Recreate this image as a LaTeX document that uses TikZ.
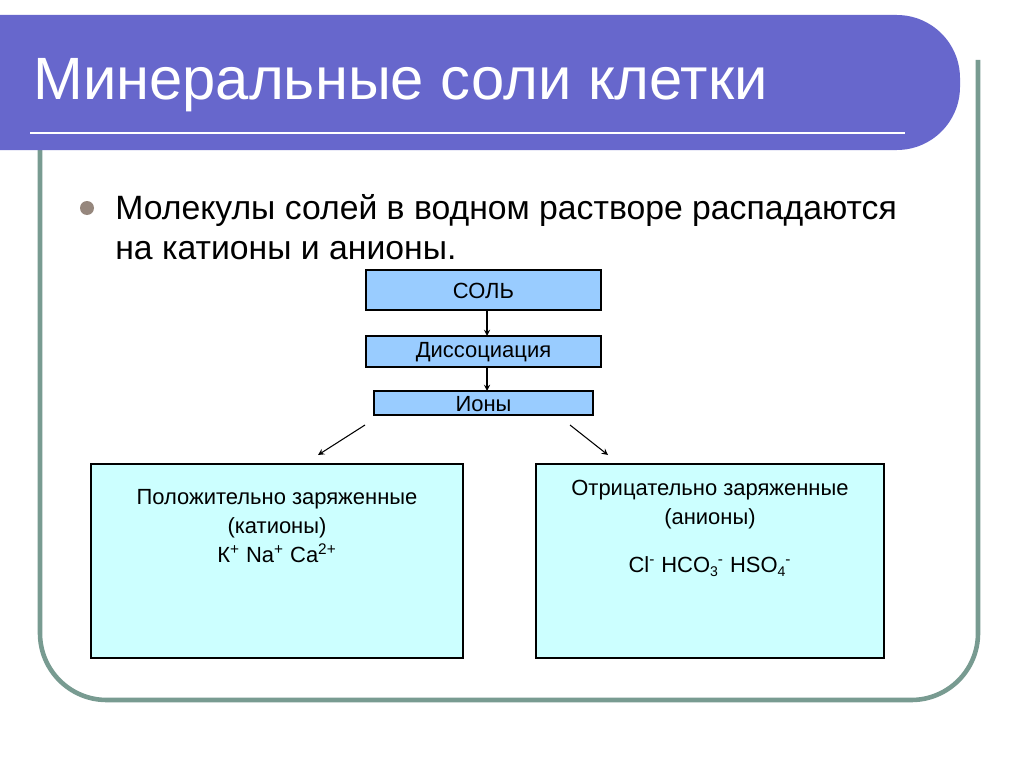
\documentclass[tikz,border=0pt]{standalone}
\usepackage{fontspec}
\setmainfont{Liberation Sans}
\definecolor{band}{RGB}{103,103,204}
\definecolor{frame}{RGB}{120,155,145}
\definecolor{bull}{RGB}{150,135,125}
\definecolor{blueb}{RGB}{153,204,255}
\definecolor{cyanb}{RGB}{204,255,255}
\newcommand{\sps}[1]{\textsuperscript{#1}}
\newcommand{\sbs}[1]{\raisebox{-0.35ex}{\footnotesize #1}}
\begin{document}
\begin{tikzpicture}[x=0.02cm,y=-0.02cm,
 box/.style={draw=black,line width=0.6pt},
 txt/.style={font=\fontsize{12.5}{16.5}\selectfont,align=center},
 arr/.style={-stealth,line width=0.6pt}]
\useasboundingbox[fill=white] (0,0) rectangle (1024,767);
\draw[line width=2.6pt,frame] (40,60) [rounded corners=38pt] -- (40,700) -- (978,700) -- (978,60);
\fill[band] (0,15) [rounded corners=36pt] -- (960,15) -- (960,150) [sharp corners] -- (0,150) -- cycle;
\draw[white,line width=1.7pt] (30,133) -- (905,133);
\node[anchor=base west,text=white,font=\fontsize{34}{38}\selectfont,inner sep=0pt] (title) at (33,100) {Минеральные соли клетки};
\fill[bull] (87,208) circle (7);
\node[anchor=base west,inner sep=0pt,font=\fontsize{19.2}{23}\selectfont] (bul) at (115,219) {Молекулы солей в водном растворе распадаются};
\node[anchor=base west,inner sep=0pt,font=\fontsize{19.2}{23}\selectfont] (bul2) at (115,259) {на катионы и анионы.};
\filldraw[box,fill=blueb] (366,270) rectangle (601,310);
\node[txt] (sol) at (483.5,291) {СОЛЬ};
\filldraw[box,fill=blueb] (366,336) rectangle (601,367);
\node[txt] (dis) at (483.5,352) {Диссоциация};
\filldraw[box,fill=blueb] (374,391) rectangle (593,415);
\node[txt] (ion) at (483.5,404) {Ионы};
\coordinate (s1) at (487,310); \coordinate (d0) at (487,336);
\coordinate (d1) at (487,367); \coordinate (i0) at (487,391);
\draw[arr] (s1) -- (d0);
\draw[arr] (d1) -- (i0);
\coordinate (a1) at (365,425); \coordinate (a2) at (318,455);
\coordinate (b1) at (570,425); \coordinate (b2) at (608,455);
\draw[arr] (a1) -- (a2);
\draw[arr] (b1) -- (b2);
\filldraw[box,fill=cyanb] (91,464) rectangle (463,658);
\filldraw[box,fill=cyanb] (536,464) rectangle (884,658);
\node[txt,anchor=north] (lt) at (277,483) {Положительно заряженные\\(катионы)\\К\sps{+} Na\sps{+} Ca\sps{2+}};
\node[txt,anchor=north] (rt) at (710,474) {Отрицательно заряженные\\(анионы)};
\node[txt,anchor=north] (rf) at (710,550) {Cl\sps{-} HCO\sbs{3}\sps{-} HSO\sbs{4}\sps{-}};
\end{tikzpicture}
\end{document}
